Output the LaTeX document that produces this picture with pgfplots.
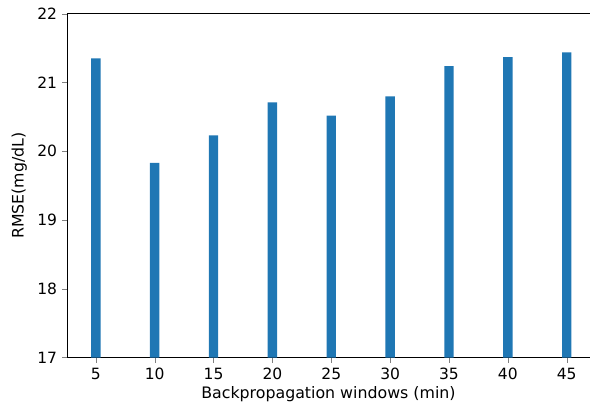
\documentclass[border=0pt]{standalone}
\usepackage{pgfplots}
\pgfplotsset{compat=1.18}
\usepackage{fontspec}
\setmainfont{DejaVu Sans}
\definecolor{mplblue}{HTML}{1F77B4}
\begin{document}
\begin{tikzpicture}
\begin{axis}[
  scale only axis,
  width=357pt, height=235pt,
  xmin=2.58, xmax=46.94,
  ymin=17, ymax=22,
  axis x line=box, axis y line=left,
  y axis line style={-},
  xtick={5,10,...,45},
  ytick={17,18,...,22},
  tick align=outside,
  tick pos=left,
  major tick length=3.5pt,
  /pgf/number format/assume math mode=true,
  ticklabel style={font=\fontsize{10.6}{13}\selectfont},
  y tick label style={inner ysep=5.5pt},
  label style={font=\fontsize{10.8}{13}\selectfont},
  xlabel={Backpropagation windows (min)},
  ylabel={RMSE(mg/dL)},
  xlabel style={yshift=2pt},
  ylabel style={inner ysep=8pt, yshift=-4.5pt},
  axis line style={line width=0.6pt},
  ybar, bar width=0.8, bar shift=0pt,
]
\addplot[fill=mplblue, draw=none] coordinates {
(5,21.35) (10,19.83) (15,20.23) (20,20.71) (25,20.52) (30,20.80) (35,21.24) (40,21.37) (45,21.44)
};
\end{axis}
\end{tikzpicture}
\end{document}
